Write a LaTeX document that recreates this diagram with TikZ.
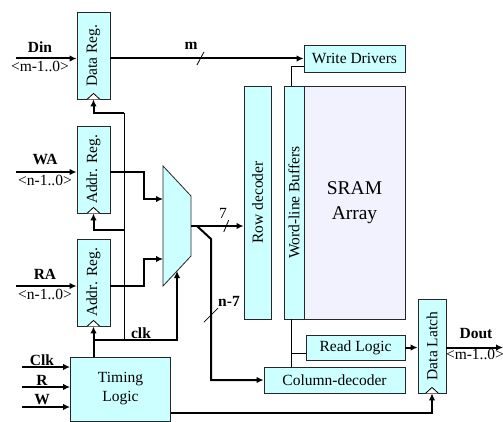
\documentclass[tikz,border=0pt]{standalone}
\usepackage{fontspec}
\setmainfont{Liberation Serif}
\usepackage{graphicx}
\usetikzlibrary{positioning,shapes.geometric,arrows.meta,calc}
\definecolor{regcyan}{HTML}{CCFFFF}
\definecolor{arraylav}{HTML}{F2F2FF}

\begin{document}
\begin{tikzpicture}[x=1pt, y=-1pt,
  font=\fontsize{15.5}{19}\selectfont,
  block/.style={rectangle, draw=black!85, line width=0.8pt, fill=regcyan,
                inner sep=0pt, align=center},
  bus/.style={line width=2pt, -{Latex[length=7pt,width=6.5pt]}},
  wire/.style={line width=0.8pt},
  lbl/.style={font=\fontsize{15.5}{19}\selectfont\bfseries, inner sep=0pt},
  bits/.style={inner sep=0pt}
]
\useasboundingbox (0,0) rectangle (503,422);

% registers and blocks
\node[block, minimum width=33pt, minimum height=87pt] (datareg) at (93.5,55.5) {\rotatebox{90}{Data Reg.}};
\node[block, minimum width=33pt, minimum height=87pt] (wareg)   at (93.5,169.5) {\rotatebox{90}{Addr. Reg.}};
\node[block, minimum width=33pt, minimum height=87pt] (rareg)   at (93.5,282.5) {\rotatebox{90}{Addr. Reg.}};
\node[block, minimum width=100pt, minimum height=64pt] (timing) at (120.5,389) {Timing\\Logic};
\node[block, minimum width=27pt, minimum height=233pt] (rowdec) at (257.5,202.5) {\rotatebox{90}{Row decoder}};
\node[block, minimum width=20pt, minimum height=233pt] (wlbuf)  at (294,202.5) {\rotatebox{90}{Word-line Buffers}};
\node[block, fill=arraylav, minimum width=101pt, minimum height=233pt,
      font=\fontsize{19.5}{25}\selectfont] (array) at (354.5,202.5) {SRAM\\Array};
\node[block, minimum width=101pt, minimum height=27pt] (writedrv)  at (354.5,58.5) {Write Drivers};
\node[block, minimum width=99pt,  minimum height=25pt] (readlogic) at (355.5,347.5) {Read Logic};
\node[block, minimum width=141pt, minimum height=26pt] (coldec)    at (334.5,380) {Column-decoder};
\node[block, minimum width=28pt,  minimum height=94pt] (datalatch) at (432,346) {\rotatebox{90}{Data Latch}};

% address mux
\coordinate (mux) at (177,226);
\draw[draw=black!85, line width=0.8pt, fill=regcyan]
  ([shift={(-14,-60)}]mux) -- ([shift={(14,-30)}]mux) -- ([shift={(14,30)}]mux)
  -- ([shift={(-14,60)}]mux) -- cycle;
\coordinate (muxout) at ([shift={(14,0)}]mux);
\coordinate (muxa) at ([shift={(-14,-27)}]mux);
\coordinate (muxb) at ([shift={(-14,33)}]mux);
\coordinate (muxsel) at ([shift={(0,45)}]mux);

% clock marks
\foreach \n in {datareg,wareg,rareg,datalatch}
  \draw[wire, fill=white] ([xshift=-6.5pt]\n.south) -- ([yshift=6pt]\n.south) -- ([xshift=6.5pt]\n.south);

% inputs
\coordinate (din) at (16,58.5);
\coordinate (wain) at (16,172);
\coordinate (rain) at (16,286);
\draw[bus] (din) -- (din -| datareg.west);
\draw[bus] (wain) -- (wain -| wareg.west);
\draw[bus] (rain) -- (rain -| rareg.west);
\node[lbl] (dinlbl) at (40,47) {Din};
\node[bits] (dinbits) at (40,66) {<m-1..0>};
\node[lbl] (walbl) at (45,160) {WA};
\node[bits] (wabits) at (45,180) {<n-1..0>};
\node[lbl] (ralbl) at (45,274) {RA};
\node[bits] (rabits) at (45,294) {<n-1..0>};

\foreach \y/\t [count=\i] in {367/Clk,387/R,407/W}{
  \coordinate (tin\i) at (22,\y);
  \draw[bus] (tin\i) -- (tin\i -| timing.west);
  \node[lbl] (tlbl\i) at (42,\y-7) {\t};
}

% data path
\draw[bus] (datareg.east |- writedrv.west) -- coordinate[pos=0.466] (sm) (writedrv.west);
\draw[wire] ([shift={(-3.5pt,-6.5pt)}]sm) -- ([shift={(3.5pt,6.5pt)}]sm);
\node[lbl] (mlbl) at (191,46) {m};

\draw[wire] ([yshift=-7.5pt]writedrv.west) -| ([xshift=-3pt]wlbuf.north);

% address path
\draw[bus] (wain -| wareg.east) -- ++(34,0) |- (muxa);
\draw[bus] (rain -| rareg.east) -- ++(34,0) |- (muxb);
\draw[bus] (muxout) -- coordinate[pos=0.67] (s7) (muxout -| rowdec.west);
\draw[wire] ([shift={(-2.5pt,-6pt)}]s7) -- ([shift={(2.5pt,6pt)}]s7);
\node[bits] (lbl7) at (223,213) {7};
\draw[bus] ([xshift=6pt]muxout) -- ++(14,13) |- coordinate[pos=0.27] (sn) (coldec.west);
\draw[wire] ([shift={(-7pt,-7pt)}]sn) -- ([shift={(7pt,7pt)}]sn);
\node[lbl] (lbln) at (229,301) {n-7};

% clocking
\coordinate (clkj) at (93.5,340);
\coordinate (tap) at (124,340);
\coordinate (tapwa) at (124,230);
\coordinate (tapdr) at (124,113);
\draw[bus] (timing.north -| rareg.south) -- (rareg.south);
\draw[bus] (clkj) -| (muxsel);
\draw[wire] (tap) -- (tapdr);
\draw[bus] (tapwa) -| (wareg.south);
\draw[bus] (tapdr) -| (datareg.south);
\node[lbl] (clklbl) at (141,333) {clk};
\draw[line width=1.3pt, -{Latex[length=7pt,width=6.5pt]}] ([yshift=-24pt]timing.east) -| (datalatch.south);

% read path
\coordinate (wlb) at ([xshift=-3pt]wlbuf.south);
\coordinate (rlin) at ([yshift=-5.5pt]readlogic.west);
\draw[wire] (wlb) -- (wlb |- coldec.north);
\draw[wire] (wlb |- rlin) -- (rlin);
\draw[bus] (readlogic.east) -- (readlogic.east -| datalatch.west);
\coordinate (dout) at (503,347.5);
\draw[bus] (dout -| datalatch.east) -- (dout);
\node[lbl] (doutlbl) at (476,334) {Dout};
\node[bits] (doutbits) at (475,354) {<m-1..0>};
\end{tikzpicture}
\end{document}
